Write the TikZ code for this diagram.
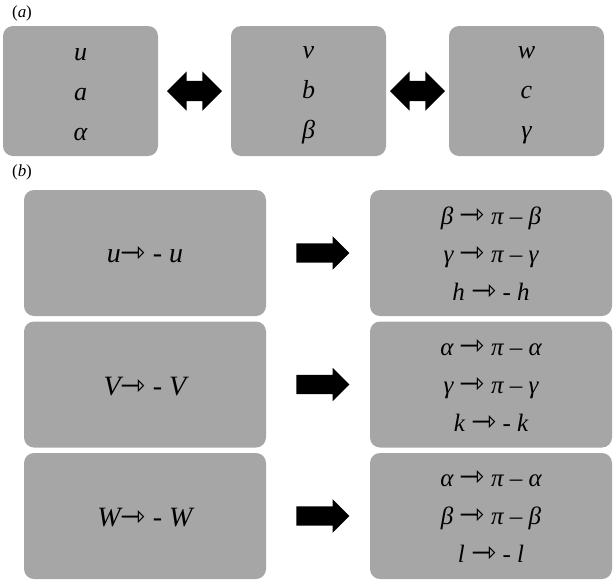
\documentclass[tikz,border=0pt]{standalone}
\usepackage{fontspec}
\setmainfont{Liberation Serif}
\newfontfamily\arrfont{DejaVu Sans}
\usetikzlibrary{shapes.arrows,calc}
\definecolor{boxgray}{HTML}{A6A6A6}
\newcommand{\oarr}{{\upshape\arrfont\fontsize{30}{30}\selectfont ⇾}}
\tikzset{
  gbox/.style={fill=boxgray, rounded corners=10pt, inner sep=0pt},
  topbox/.style={gbox, minimum width=155pt, minimum height=130pt},
  botbox/.style={gbox, minimum width=242pt, minimum height=126pt},
  toptext/.style={align=center, inner sep=0pt, font=\fontsize{26}{40}\selectfont\itshape},
  lefttext/.style={align=center, inner sep=0pt, font=\fontsize{28}{30}\selectfont\itshape},
  righttext/.style={align=center, inner sep=0pt, font=\fontsize{25}{38}\selectfont\itshape},
  dbl/.style={double arrow, fill=black, inner sep=10pt, minimum height=55pt, double arrow head extend=9.5pt},
  sgl/.style={single arrow, fill=black, inner sep=9.5pt, minimum height=53pt, single arrow head extend=7pt},
  plabel/.style={font=\fontsize{17}{17}\selectfont, inner sep=0pt}
}
\begin{document}
\begin{tikzpicture}[x=1pt,y=-1pt]
\useasboundingbox (0,0) rectangle (614,582);
\node[plabel] (la) at (22,13) {(\textit{a})};
\node[plabel] (lb) at (22,172) {(\textit{b})};
% top row
\node[topbox] (A) at (80.5,91) {};
\node[topbox] (B) at (308.5,91) {};
\node[topbox] (C) at (526.5,91) {};
\node[toptext] (At) at ($(A)+(0,4)$) {u\\a\\α};
\node[toptext] (Bt) at ($(B)+(0,4)$) {v\\b\\β};
\node[toptext] (Ct) at ($(C)+(0,4)$) {w\\c\\γ};
\node[dbl] (AB) at ($(A.east)!0.5!(B.west)$) {};
\node[dbl] (BC) at ($(B.east)!0.5!(C.west)$) {};
% bottom rows
\node[botbox] (L1) at (145,253) {};
\node[botbox] (L2) at (145,384.5) {};
\node[botbox] (L3) at (145,516) {};
\node[botbox] (R1) at (491,253) {};
\node[botbox] (R2) at (491,384.5) {};
\node[botbox] (R3) at (491,516) {};
\node[lefttext] (L1t) at ($(L1)+(0,2)$) {u\oarr\ - u};
\node[lefttext] (L2t) at ($(L2)+(0,2)$) {V\oarr\ - V};
\node[lefttext] (L3t) at ($(L3)+(0,2)$) {W\oarr\ - W};
\node[righttext] (R1t) at ($(R1)+(0,1)$) {β \oarr\ π – β\\γ \oarr\ π – γ\\h \oarr\ - h};
\node[righttext] (R2t) at ($(R2)+(0,1)$) {α \oarr\ π – α\\γ \oarr\ π – γ\\k \oarr\ - k};
\node[righttext] (R3t) at ($(R3)+(0,1)$) {α \oarr\ π – α\\β \oarr\ π – β\\l \oarr\ - l};
\node[sgl] (S1) at ($(L1.east)!0.5!(R1.west)$) {};
\node[sgl] (S2) at ($(L2.east)!0.5!(R2.west)$) {};
\node[sgl] (S3) at ($(L3.east)!0.5!(R3.west)$) {};
\end{tikzpicture}
\end{document}
